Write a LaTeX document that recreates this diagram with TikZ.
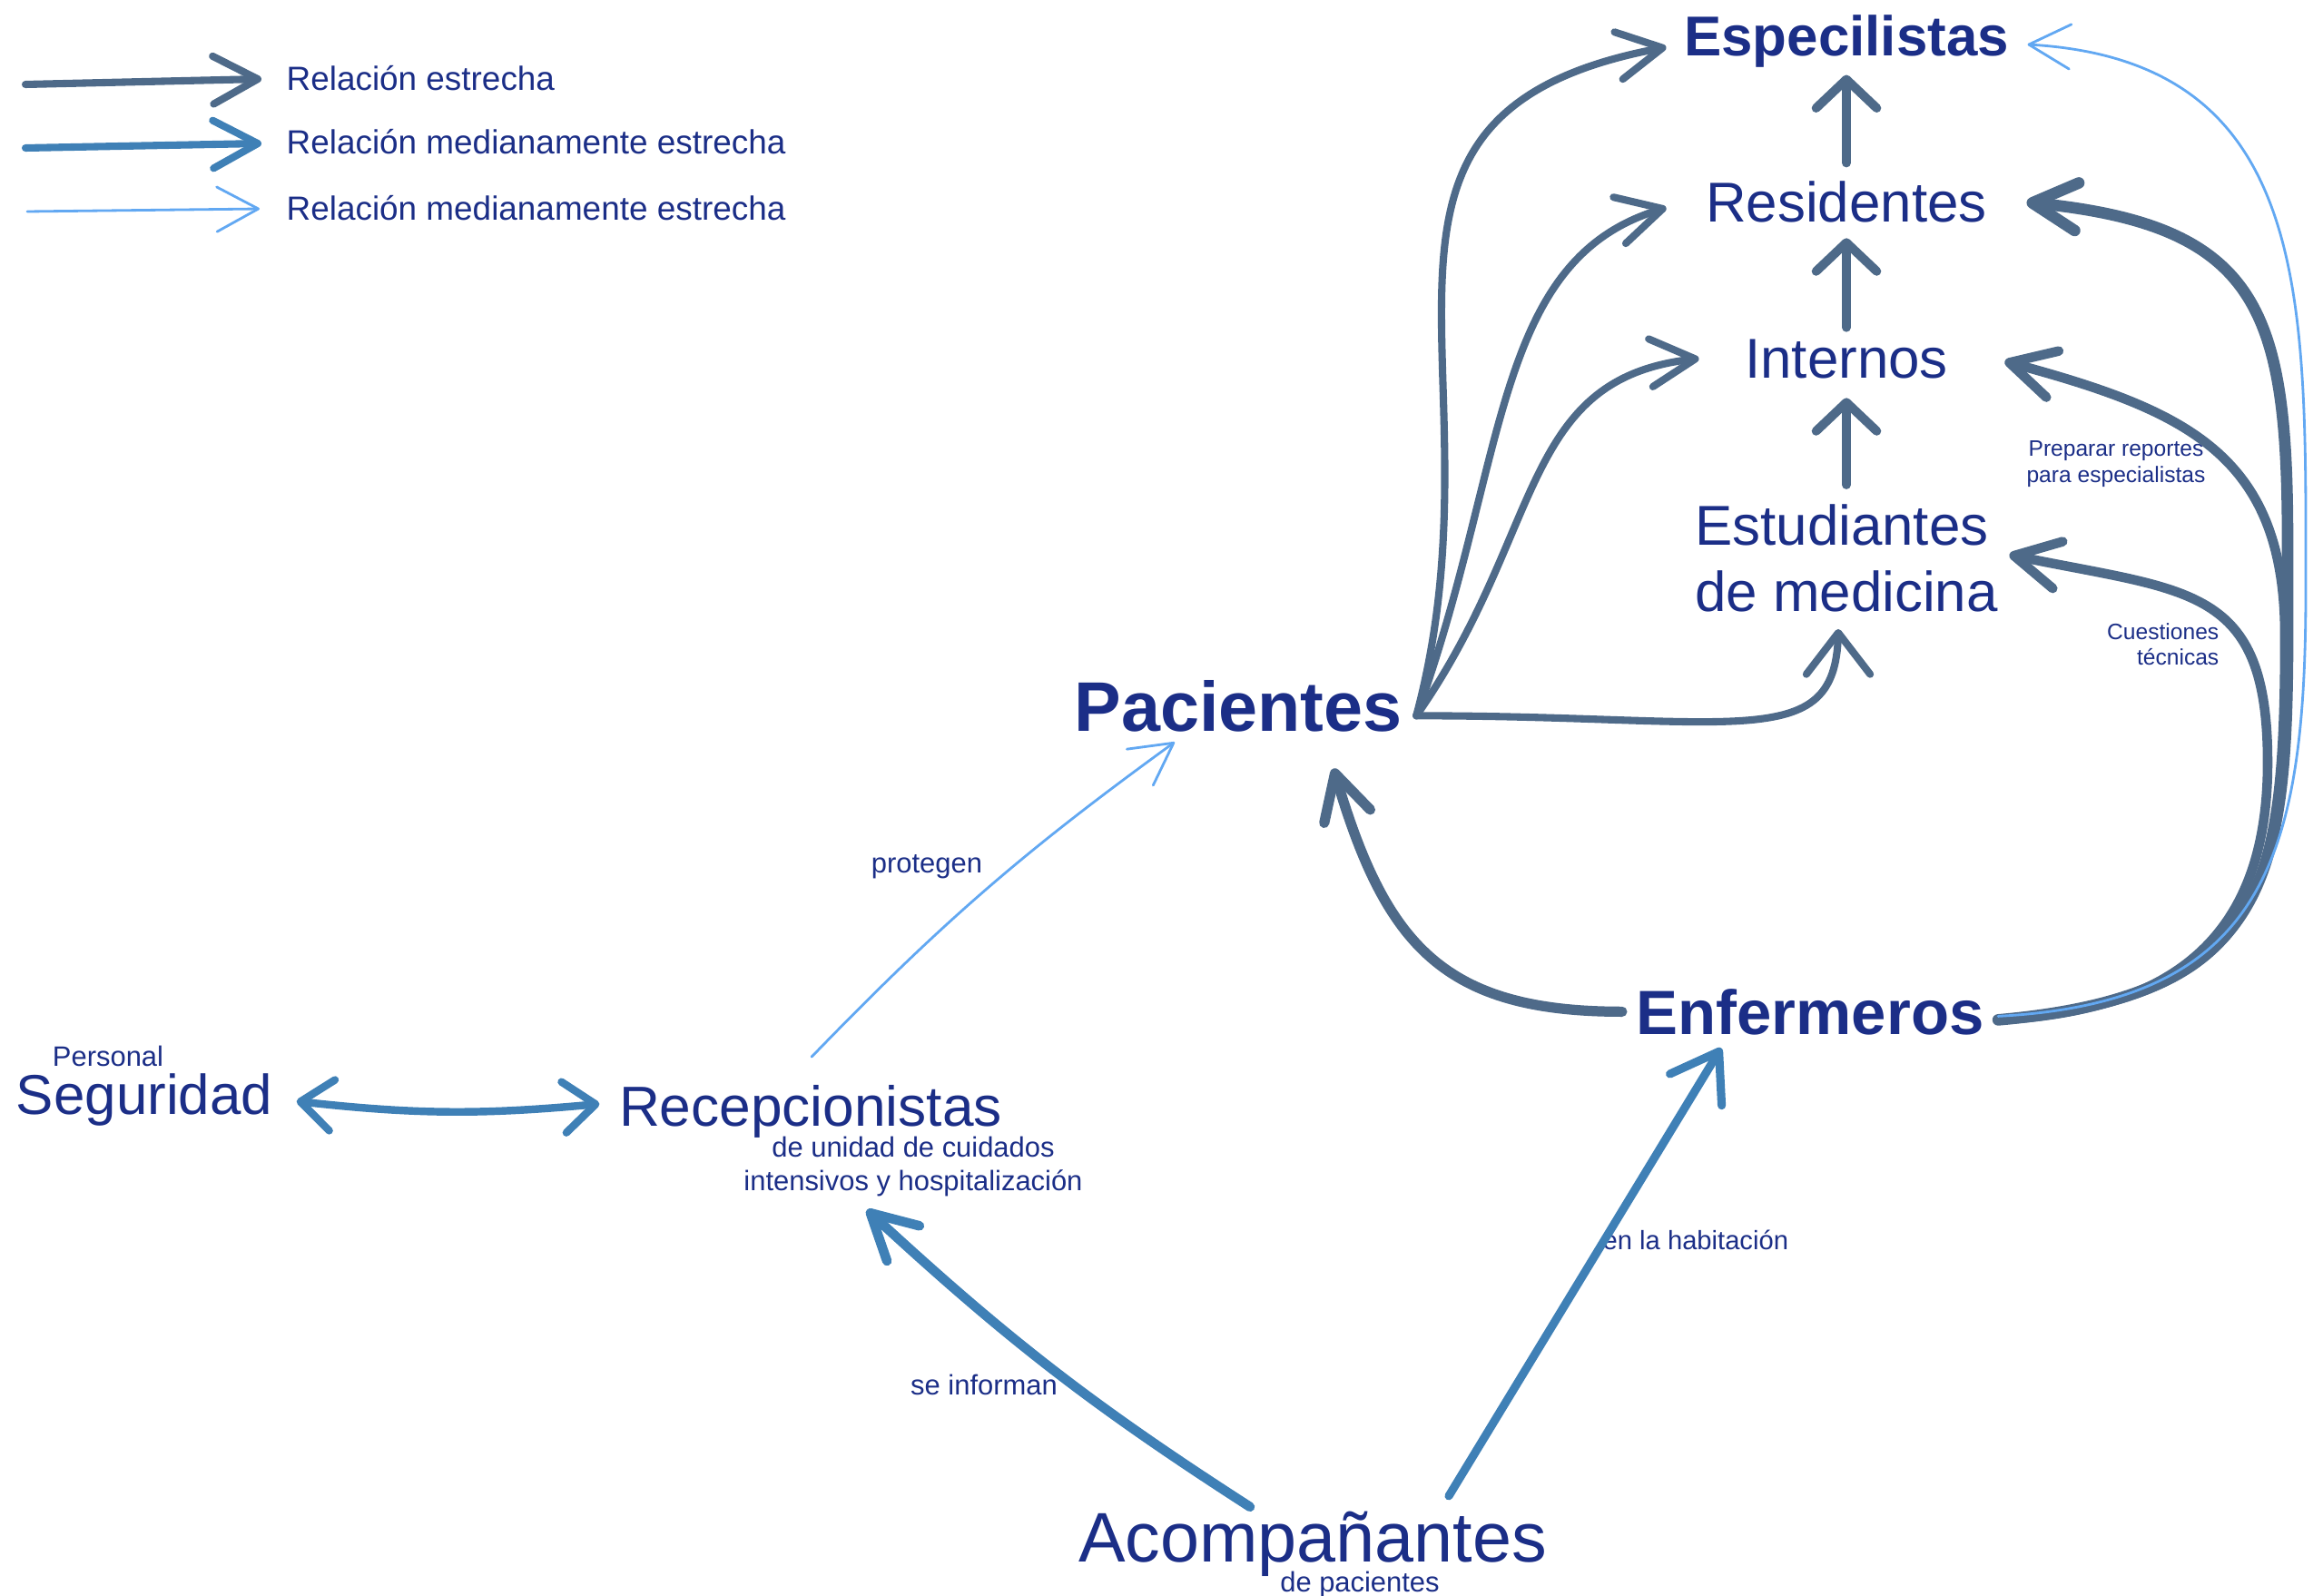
\documentclass[tikz,border=0pt]{standalone}
\usepackage{fontspec}
\setmainfont{Liberation Sans}
\usepackage{tikz}
\usetikzlibrary{arrows.meta,bending}

\definecolor{txtc}{HTML}{1B2E87}
\definecolor{darkc}{HTML}{4E6A89}
\definecolor{midc}{HTML}{3F80B6}
\definecolor{lightc}{HTML}{62A8F2}

\begin{document}
\begin{tikzpicture}[
    >={Straight Barb[length=14pt,width=15pt,round]},
    lbl/.style={text=txtc, inner sep=0pt, anchor=base},
    txt/.style={lbl, font=\fontsize{#1}{#1}\selectfont},
    txtb/.style={lbl, font=\bfseries\fontsize{#1}{#1}\selectfont},
    rel/.style={->, draw=darkc, line width=2.4pt, line cap=round},
    relup/.style={rel, line width=2.8pt, -{Straight Barb[length=9pt,width=19pt,round]}},
    relmed/.style={rel, draw=midc},
    relweak/.style={draw=lightc, line width=0.8pt, line cap=round,
      -{Straight Barb[length=13pt,width=14pt,round]}}
  ]
      \useasboundingbox (0,0) rectangle (25.59,-17.58);

      % legend
      \coordinate (l1) at (0.28,-0.93);
      \coordinate (l1e) at (2.88,-0.87);
      \coordinate (l2) at (0.28,-1.63);
      \coordinate (l2e) at (2.88,-1.58);
      \coordinate (l3) at (0.30,-2.33);
      \coordinate (l3e) at (2.86,-2.30);
      \node[txt=10.5, anchor=base west] (leg1) at (3.15,-1.00) {Relación estrecha};
      \node[txt=10.5, anchor=base west] (leg2) at (3.15,-1.70) {Relación medianamente estrecha};
      \node[txt=10.5, anchor=base west] (leg3) at (3.15,-2.43) {Relación medianamente estrecha};
      \draw[rel, line width=2.3pt] (l1) -- (l1e);
      \draw[relmed, line width=2.3pt] (l2) -- (l2e);
      \draw[relweak] (l3) -- (l3e);

      % medical staff column
      \node[txtb=17.6] (esp) at (20.34,-0.62) {Especilistas};
      \node[txt=17.6] (res) at (20.34,-2.45) {Residentes};
      \node[txt=17.6] (intr) at (20.34,-4.16) {Internos};
      \node[lbl, anchor=center, align=left, font=\fontsize{17.6}{20.8}\selectfont] (est) at (20.34,-6.15) {Estudiantes\\de medicina};

      % patients, nurses
      \node[txtb=22] (pac) at (13.64,-8.05) {Pacientes};
      \node[txtb=19.6] (enf) at (19.94,-11.39) {Enfermeros};

      % reception, security, companions
      \node[txt=17.7] (rec) at (8.93,-12.40) {Recepcionistas};
      \node[lbl, anchor=center, align=center, font=\fontsize{8.8}{10.8}\selectfont] (recsub) at (10.06,-12.85) {de unidad de cuidados\\intensivos y hospitalización};
      \node[txt=17.6] (seg) at (1.59,-12.27) {Seguridad};
      \node[txt=8.8] (pers) at (1.19,-11.74) {Personal};
      \node[txt=22] (aco) at (14.46,-17.20) {Acompañantes};
      \node[txt=8.8] (acosub) at (14.98,-17.53) {de pacientes};

      % labels on the arrows
      \node[txt=8.8] (lprot) at (10.21,-9.61) {protegen};
      \node[txt=8.8] (linf) at (10.84,-15.36) {se informan};
      \node[txt=8.3, anchor=base west] (lhab) at (17.65,-13.76) {en la habitación};
      \node[lbl, anchor=center, align=center, font=\fontsize{7}{8.3}\selectfont] (lrep) at (23.31,-5.11) {Preparar reportes\\para especialistas};
      \node[lbl, anchor=east, align=right, font=\fontsize{7}{8}\selectfont] (ltec) at (24.45,-7.10) {Cuestiones\\técnicas};

      % pacientes to the staff
      \draw[rel, line width=2.3pt] ([shift={(0.15,-0.11)}]pac.east) .. controls +(75:4) and +(190:4) .. ([shift={(-0.19,-0.06)}]esp.west);
      \draw[rel, line width=2.3pt] ([shift={(0.15,-0.11)}]pac.east) .. controls +(70:3) and +(195:2) .. ([shift={(-0.43,-0.06)}]res.west);
      \draw[rel, line width=2.3pt] ([shift={(0.15,-0.11)}]pac.east) .. controls +(55:2.5) and +(185:2) .. ([shift={(-0.50,0)}]intr.west);
      \draw[rel, line width=2.3pt, -{Straight Barb[length=13pt,width=20pt,round]}] ([shift={(0.15,-0.11)}]pac.east) .. controls +(0:3.6) and +(-90:1.4) .. ([shift={(-0.09,-0.18)}]est.south);

      % up the column
      \draw[relup] ([yshift=0.20cm]res.north) -- ([yshift=-0.07cm]esp.south);
      \draw[relup] ([yshift=0.12cm]intr.north) -- ([yshift=-0.16cm]res.south);
      \draw[relup] ([yshift=0.21cm]est.north) -- ([yshift=-0.21cm]intr.south);

      % bundle on the right side
      \coordinate (kres) at (25.20,-6.00);
      \coordinate (kint) at (25.17,-7.00);
      \coordinate (kest) at (24.98,-8.40);
      \coordinate (kesp) at (25.40,-6.50);

      % enfermeros
      \draw[rel, line width=3.2pt] ([xshift=-0.15cm]enf.west) .. controls +(180:2) and +(-74:2) .. ([shift={(1.05,-0.40)}]pac.south);
      \draw[rel, line width=3.6pt] ([shift={(0.15,-0.09)}]enf.east) to[out=5, in=-90, looseness=1.4] (kres) to[out=90, in=-5, looseness=1.4] ([shift={(0.43,0)}]res.east);
      \draw[rel, line width=3.0pt] ([shift={(0.15,-0.09)}]enf.east) to[out=5, in=-90, looseness=1.4] (kint) to[out=90, in=-15, looseness=1.2] ([shift={(0.62,-0.03)}]intr.east);
      \draw[rel, line width=3.0pt] ([shift={(0.15,-0.09)}]enf.east) to[out=3, in=-90, looseness=1.2] (kest) to[out=90, in=-12, looseness=1.4] ([shift={(0.12,0.04)}]est.east);
      \draw[relweak] ([shift={(0.15,-0.05)}]enf.east) to[out=3, in=-90, looseness=1.3] (kesp) to[out=90, in=-3, looseness=1.2] ([shift={(0.20,-0.03)}]esp.east);

      % seguridad, recepcion, acompanantes
      \draw[relmed, <->, >={Straight Barb[length=10pt,width=16pt,round]}] ([shift={(0.26,-0.02)}]seg.east) to[bend right=6] ([shift={(-0.21,0.08)}]rec.west);
      \draw[relmed, line width=3pt] ([shift={(-0.69,0.04)}]aco.north) to[bend left=5] ([shift={(0.62,-0.79)}]rec.south);
      \draw[relmed, line width=2.6pt, -{Straight Barb[length=14pt,width=19pt,round]}] ([shift={(1.50,0.16)}]aco.north) -- ([shift={(-0.98,-0.14)}]enf.south);
      \draw[relweak] ([shift={(0.01,0.30)}]rec.north) to[bend left=5] ([shift={(-0.70,-0.11)}]pac.south);
\end{tikzpicture}
\end{document}
